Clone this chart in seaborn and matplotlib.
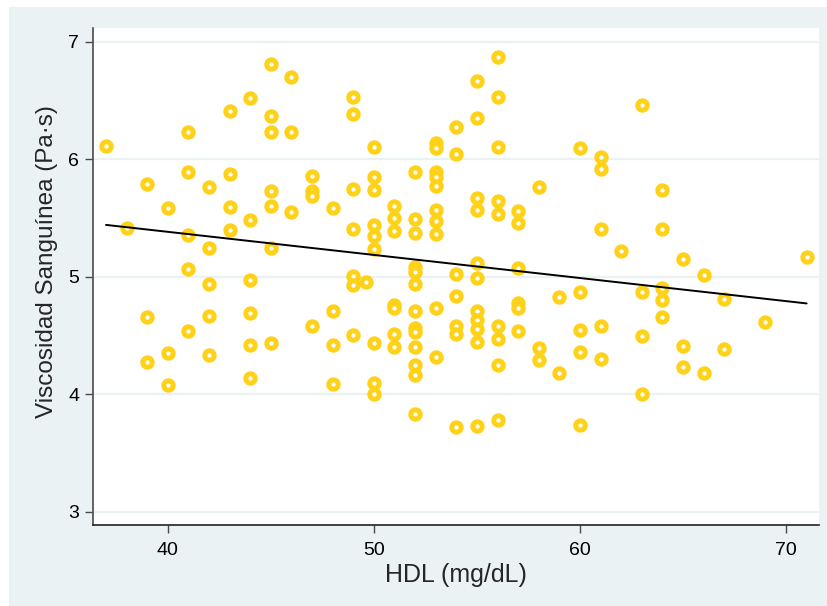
import matplotlib
matplotlib.use("Agg")
import matplotlib.pyplot as plt
import seaborn as sns
import pandas as pd
from matplotlib.patches import Rectangle

# HDL (mg/dL) values and blood viscosity (Pa·s)
hdl = [37, 38, 39, 39, 39, 40, 40, 40,
       41, 41, 41, 41, 41, 42, 42, 42, 42, 42,
       43, 43, 43, 43, 44, 44, 44, 44, 44, 44,
       45, 45, 45, 45, 45, 45, 45, 46, 46, 46,
       47, 47, 47, 47, 48, 48, 48, 48,
       49, 49, 49, 49, 49, 49, 49, 49.6,
       50, 50, 50, 50, 50, 50, 50, 50, 50,
       51, 51, 51, 51, 51, 51, 51,
       52, 52, 52, 52, 52, 52, 52, 52, 52, 52, 52, 52, 52,
       53, 53, 53, 53, 53, 53, 53, 53, 53, 53,
       54, 54, 54, 54, 54, 54, 54,
       55, 55, 55, 55, 55, 55, 55, 55, 55, 55, 55,
       56, 56, 56, 56, 56, 56, 56, 56, 56,
       57, 57, 57, 57, 57, 57, 58, 58, 58, 59, 59,
       60, 60, 60, 60, 60, 61, 61, 61, 61, 61, 62,
       63, 63, 63, 63, 64, 64, 64, 64, 64,
       65, 65, 65, 66, 66, 67, 67, 69, 71]
viscosity = [6.115, 5.42, 5.79, 4.66, 4.28, 5.585, 4.35, 4.08,
             6.23, 5.89, 5.36, 5.07, 4.54, 5.765, 5.25, 4.94, 4.67, 4.34,
             6.41, 5.875, 5.595, 5.40, 6.52, 5.485, 4.97, 4.69, 4.42, 4.14,
             6.815, 6.37, 6.235, 5.735, 5.605, 5.245, 4.44, 6.705, 6.235, 5.555,
             5.86, 5.735, 5.69, 4.58, 5.585, 4.71, 4.42, 4.09,
             6.535, 6.385, 5.75, 5.405, 5.01, 4.93, 4.51, 4.96,
             6.105, 5.85, 5.74, 5.445, 5.35, 5.235, 4.44, 4.10, 4.00,
             5.605, 5.505, 5.395, 4.76, 4.735, 4.515, 4.405,
             5.895, 5.49, 5.37, 5.085, 5.045, 4.94, 4.71, 4.565, 4.535, 4.40, 4.25, 4.165, 3.83,
             6.14, 6.095, 5.895, 5.855, 5.775, 5.57, 5.48, 5.365, 4.74, 4.32,
             6.275, 6.05, 5.025, 4.84, 4.585, 4.515, 3.72,
             6.665, 6.355, 5.67, 5.57, 5.115, 4.99, 4.71, 4.635, 4.555, 4.45, 3.73,
             6.875, 6.535, 6.105, 5.65, 5.535, 4.585, 4.47, 4.25, 3.78,
             5.565, 5.46, 5.075, 4.775, 4.735, 4.54, 5.765, 4.395, 4.295, 4.83, 4.18,
             6.10, 4.875, 4.55, 4.365, 3.74, 6.02, 5.915, 5.405, 4.585, 4.30, 5.22,
             6.465, 4.87, 4.50, 4.00, 5.74, 5.405, 4.91, 4.80, 4.66,
             5.155, 4.41, 4.23, 5.02, 4.18, 4.81, 4.385, 4.62, 5.17]

x_ticks = [40, 50, 60, 70]
y_ticks = [3, 4, 5, 6, 7]
x_label = "HDL (mg/dL)"
y_label = "Viscosidad Sanguínea (Pa·s)"

df = pd.DataFrame({"hdl": hdl, "visc": viscosity})

sns.set_style("white")
plt.rcParams["font.family"] = ["Liberation Sans", "DejaVu Sans"]

W, H = 827, 606
fig = plt.figure(figsize=(W / 100, H / 100), dpi=100, facecolor="white")
bg = "#EAF2F3"
fig.patches.append(Rectangle((9 / W, 0), 1 - 9 / W, 1 - 7 / H,
                             transform=fig.transFigure, facecolor=bg,
                             edgecolor="none", zorder=-10))

ax = fig.add_axes([93 / W, 1 - 525 / H, (819 - 93) / W, (525 - 28) / H])
ax.set_facecolor("white")

sns.scatterplot(data=df, x="hdl", y="visc", ax=ax, s=46, color="white",
                edgecolor="#FFD21A", linewidth=3.6, zorder=3, legend=False)
sns.regplot(data=df, x="hdl", y="visc", ax=ax, scatter=False, ci=None,
            truncate=True, line_kws=dict(color="black", lw=1.4, zorder=4))

ax.set_xlim(36.37, 71.6)
ax.set_ylim(2.889, 7.119)
ax.set_xticks(x_ticks)
ax.set_yticks(y_ticks)
ax.set_xticklabels([str(v) for v in x_ticks])
ax.set_yticklabels([str(v) for v in y_ticks])

for v in y_ticks:
    ax.axhline(v, color=bg, lw=1.6, zorder=1)

for s in ["top", "right"]:
    ax.spines[s].set_visible(False)
ax.spines["left"].set_color("#4a4a4a")
ax.spines["bottom"].set_color("#222222")
ax.spines["left"].set_linewidth(1.2)
ax.spines["bottom"].set_linewidth(1.2)

ax.tick_params(axis="both", direction="out", length=6, width=1.0,
               color="#4a4a4a", labelsize=14, labelcolor="black")
ax.tick_params(axis="x", bottom=True, pad=6)
ax.tick_params(axis="y", left=True, pad=4)

ax.set_xlabel(x_label, fontsize=18, labelpad=3)
ax.set_ylabel(y_label, fontsize=17.5, labelpad=10)
ax.yaxis.set_label_coords(-0.048, 0.53)

fig.savefig("out.png", dpi=100, facecolor=fig.get_facecolor())
